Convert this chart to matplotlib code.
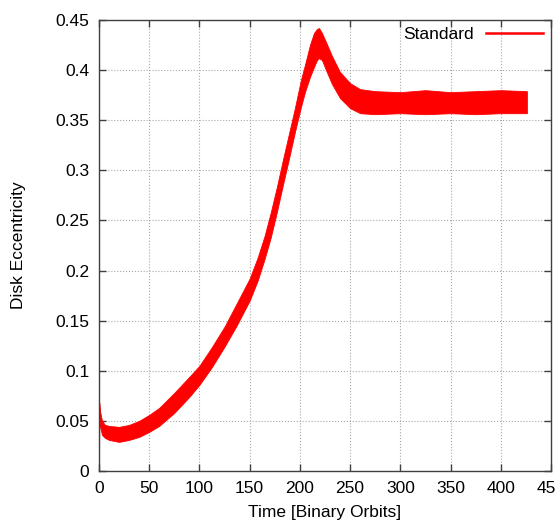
import matplotlib
matplotlib.use("Agg")
import matplotlib.pyplot as plt
from matplotlib.lines import Line2D

# envelope of the (rapidly oscillating) eccentricity curve
time = [0, 0.3, 1, 3, 6, 10, 20, 30, 40, 50, 60, 75, 90, 100, 112, 125,
        137, 150, 158, 165, 171, 177, 183, 189, 195, 201, 205, 210, 214, 217,
        219, 222, 226, 232, 240, 250, 260, 275, 300, 325, 350, 375, 400, 426]
ecc_low = [0.0, 0.055, 0.045, 0.036, 0.033, 0.031, 0.029, 0.031, 0.034, 0.039,
           0.045, 0.058, 0.074, 0.086, 0.103, 0.124, 0.145, 0.170, 0.190, 0.212,
           0.233, 0.258, 0.285, 0.311, 0.338, 0.363, 0.378, 0.393,
           0.403, 0.410, 0.412, 0.410, 0.400, 0.386, 0.372, 0.362, 0.357, 0.356,
           0.357, 0.356, 0.357, 0.356, 0.357, 0.357]
ecc_high = [0.0, 0.068, 0.060, 0.050, 0.046, 0.045, 0.044, 0.046, 0.050, 0.056,
            0.063, 0.078, 0.094, 0.105, 0.123, 0.144, 0.167, 0.192, 0.213, 0.235,
            0.258, 0.283, 0.310, 0.336, 0.362, 0.390, 0.405, 0.425,
            0.437, 0.441, 0.442, 0.437, 0.428, 0.414, 0.398, 0.387, 0.381, 0.379,
            0.378, 0.380, 0.378, 0.379, 0.380, 0.379]

x_ticks = [0, 50, 100, 150, 200, 250, 300, 350, 400, 450]
y_ticks = [0, 0.05, 0.1, 0.15, 0.2, 0.25, 0.3, 0.35, 0.4, 0.45]
y_labels = ['0', '0.05', '0.1', '0.15', '0.2', '0.25', '0.3', '0.35', '0.4', '0.45']

plt.rcParams['font.family'] = ['Liberation Sans', 'DejaVu Sans']
plt.rcParams['font.size'] = 12.5

fig = plt.figure(figsize=(5.56, 5.25), dpi=100)
ax = fig.add_axes([0.178, 0.1029, 0.813, 0.859])

ax.fill_between(time, ecc_low, ecc_high, color='#ff0000', linewidth=0.6,
                edgecolor='#ff0000')

ax.set_xlim(0, 450)
ax.set_ylim(0, 0.45)
ax.set_xticks(x_ticks)
ax.set_xticklabels([str(v) for v in x_ticks])
ax.set_yticks(y_ticks)
ax.set_yticklabels(y_labels)

ax.grid(True, linestyle=':', color='#a8a8a8', linewidth=0.8)
ax.set_axisbelow(True)
ax.tick_params(direction='in', length=5, width=1, color='#404040',
               top=True, right=True, pad=7)
for s in ax.spines.values():
    s.set_color('#404040')
    s.set_linewidth(1.0)

ax.set_xlabel('Time [Binary Orbits]')
ax.set_ylabel('Disk Eccentricity')
ax.xaxis.set_label_coords(0.5, -0.075)
ax.yaxis.set_label_coords(-0.162, 0.5)

handle = Line2D([], [], color='#ff0000', linewidth=1.8)
ax.legend([handle], ['Standard'], loc='upper right', frameon=False,
          markerfirst=False, handlelength=3.3, handletextpad=0.7,
          borderaxespad=0.1, bbox_to_anchor=(1.002, 1.005))

fig.savefig('out.png', dpi=100)
plt.close(fig)
